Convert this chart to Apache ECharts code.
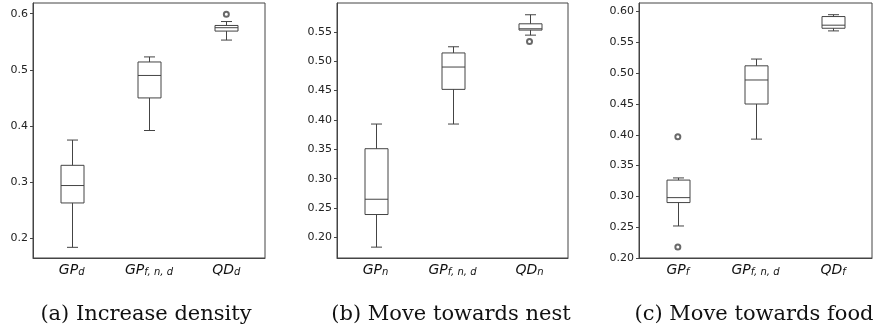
<!DOCTYPE html>
<html>
<head>
<meta charset="utf-8">
<script src="https://cdn.jsdelivr.net/npm/echarts@6/dist/echarts.min.js"></script>
<style>
  html, body { margin: 0; padding: 0; background: #fff; }
  #chart { width: 875px; height: 330px; }
</style>
</head>
<body>
<div id="chart"></div>
<script>
// category names, split as main text + subscript
const mainA = ['GP', 'GP', 'QD'];
const subA = ['d', 'f, n, d', 'd'];
const mainB = ['GP', 'GP', 'QD'];
const subB = ['n', 'f, n, d', 'n'];
const mainC = ['GP', 'GP', 'QD'];
const subC = ['f', 'f, n, d', 'f'];

// box stats: [lower whisker, Q1, median, Q3, upper whisker]
const boxA = [
  [0.184, 0.263, 0.294, 0.330, 0.375],
  [0.392, 0.450, 0.490, 0.514, 0.523],
  [0.553, 0.569, 0.575, 0.579, 0.586]
];
const boxB = [
  [0.1835, 0.239, 0.265, 0.351, 0.393],
  [0.393, 0.452, 0.490, 0.514, 0.5245],
  [0.5443, 0.5529, 0.5551, 0.5636, 0.579]
];
const boxC = [
  [0.252, 0.290, 0.298, 0.3265, 0.330],
  [0.393, 0.450, 0.489, 0.512, 0.523],
  [0.5687, 0.573, 0.578, 0.592, 0.595]
];

// outliers: [category index, value]
const outA = [[2, 0.599]];
const outB = [[2, 0.5336]];
const outC = [[0, 0.397], [0, 0.218]];

// y tick labels
const ticksA = ['0.2', '0.3', '0.4', '0.5', '0.6'];
const ticksB = ['0.20', '0.25', '0.30', '0.35', '0.40', '0.45', '0.50', '0.55'];
const ticksC = ['0.20', '0.25', '0.30', '0.35', '0.40', '0.45', '0.50', '0.55', '0.60'];

const captions = ['(a) Increase density', '(b) Move towards nest', '(c) Move towards food'];

const LINE = '#444';
const grids = [
  { left: 33, top: 3, width: 232, height: 255 },
  { left: 337, top: 3, width: 231, height: 255 },
  { left: 639, top: 3, width: 233, height: 255 }
];
const yRanges = [[0.165, 0.619], [0.165, 0.599], [0.2, 0.614]];
const mains = [mainA, mainB, mainC];
const subs = [subA, subB, subC];
const boxes = [boxA, boxB, boxC];
const outs = [outA, outB, outC];
const ticks = [ticksA, ticksB, ticksC];
const captionX = [141, 446, 749];

function renderBox(params, api) {
  const x = api.value(0);
  const lo = api.coord([x, api.value(1)]);
  const q1 = api.coord([x, api.value(2)]);
  const md = api.coord([x, api.value(3)]);
  const q3 = api.coord([x, api.value(4)]);
  const hi = api.coord([x, api.value(5)]);
  const cx = Math.round(lo[0]) + 0.5;
  const half = 11.5, cap = 5.5;
  const st = { stroke: LINE, lineWidth: 1, fill: null };
  const line = (x1, y1, x2, y2) => ({ type: 'line', shape: { x1, y1, x2, y2 }, style: st });
  return {
    type: 'group',
    children: [
      { type: 'rect', shape: { x: cx - half, y: q3[1], width: half * 2, height: q1[1] - q3[1] },
        style: { fill: '#fff', stroke: LINE, lineWidth: 1 } },
      line(cx - half, md[1], cx + half, md[1]),
      line(cx, q3[1], cx, hi[1]),
      line(cx, q1[1], cx, lo[1]),
      line(cx - cap, hi[1], cx + cap, hi[1]),
      line(cx - cap, lo[1], cx + cap, lo[1])
    ]
  };
}

const chart = echarts.init(document.getElementById('chart'), null, { renderer: 'canvas' });

const option = {
  animation: false,
  backgroundColor: '#fff',
  title: captions.map((t, i) => ({
    text: t,
    left: captionX[i],
    top: 299,
    textAlign: 'center',
    textStyle: { fontFamily: 'DejaVu Serif', fontSize: 21, fontWeight: 'normal', color: '#111' }
  })),
  grid: grids.map(g => Object.assign({ show: true, borderColor: LINE, borderWidth: 1, backgroundColor: 'transparent' }, g)),
  xAxis: grids.map((g, i) => ({
    type: 'category',
    gridIndex: i,
    data: mains[i].map((m, j) => m + '_' + subs[i][j]),
    boundaryGap: true,
    axisLine: { lineStyle: { color: LINE, width: 1 } },
    axisTick: { alignWithLabel: true, length: 3, lineStyle: { color: LINE } },
    axisLabel: {
      interval: 0,
      margin: 5,
      formatter: (v, j) => '{m|' + mains[i][j] + '}{s|' + subs[i][j] + '}',
      rich: {
        m: { fontFamily: 'DejaVu Sans', fontStyle: 'italic', fontSize: 14, color: '#111', lineHeight: 14, verticalAlign: 'top' },
        s: { fontFamily: 'DejaVu Sans', fontStyle: 'italic', fontSize: 10, color: '#111', lineHeight: 10, verticalAlign: 'bottom', padding: [7, 0, 0, 0] }
      }
    },
    splitLine: { show: false }
  })),
  yAxis: grids.map((g, i) => ({
    type: 'value',
    gridIndex: i,
    min: yRanges[i][0],
    max: yRanges[i][1],
    axisLine: { show: true, lineStyle: { color: LINE, width: 1 } },
    axisTick: { show: true, length: 3, lineStyle: { color: LINE }, customValues: ticks[i].map(Number) },
    axisLabel: {
      margin: 5,
      fontFamily: 'DejaVu Sans',
      fontSize: 11,
      color: '#222',
      customValues: ticks[i].map(Number),
      formatter: v => v.toFixed(ticks[i][0].split('.')[1].length)
    },
    splitLine: { show: false }
  })),
  series: [].concat(
    boxes.map((b, i) => ({
      type: 'custom',
      xAxisIndex: i,
      yAxisIndex: i,
      renderItem: renderBox,
      encode: { x: 0, y: [1, 2, 3, 4, 5] },
      data: b.map((v, j) => [j].concat(v)),
      z: 3
    })),
    outs.map((o, i) => ({
      type: 'scatter',
      xAxisIndex: i,
      yAxisIndex: i,
      symbol: 'emptyCircle',
      symbolSize: 5,
      itemStyle: { color: LINE, borderColor: LINE, borderWidth: 0.8 },
      data: o,
      z: 4
    }))
  )
};

chart.setOption(option);
</script>
</body>
</html>
